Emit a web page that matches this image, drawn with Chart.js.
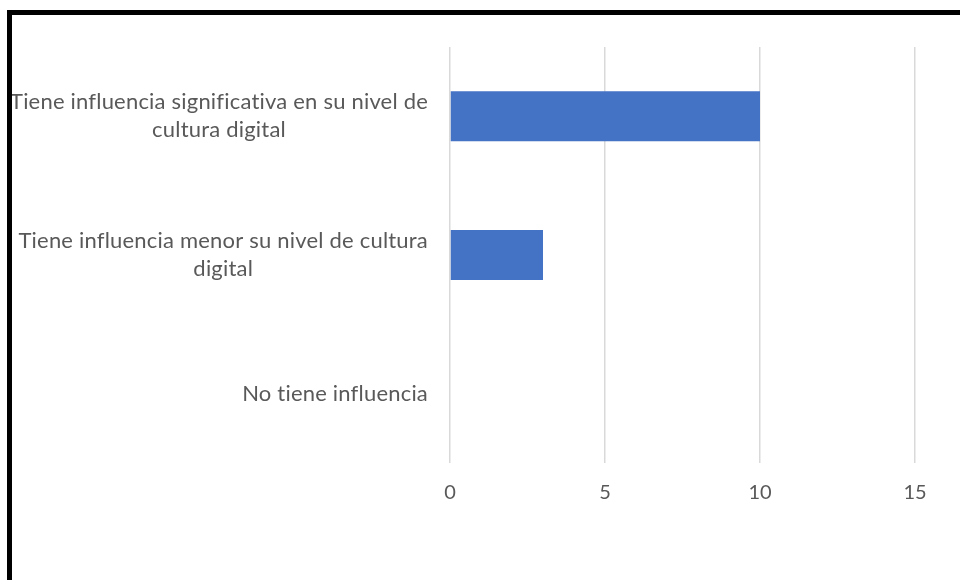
<!DOCTYPE html>
<html>
<head>
<meta charset="utf-8">
<script src="https://cdn.jsdelivr.net/npm/chart.js@4/dist/chart.umd.min.js"></script>
<style>
  html, body { margin: 0; padding: 0; background: #fff; overflow: hidden; }
  #wrap { position: relative; width: 960px; height: 580px; }
  #frame {
    position: absolute; left: 7px; top: 10px;
    width: 1000px; height: 700px;
    border-left: 5px solid #000; border-top: 5px solid #000;
    pointer-events: none;
  }
  canvas { position: absolute; left: 0; top: 0; }
</style>
</head>
<body>
<div id="wrap">
  <canvas id="barChart" width="960" height="580"></canvas>
  <div id="frame"></div>
</div>
<script>
const categories = [
  ['Tiene influencia significativa en su nivel de', 'cultura digital'],
  ['Tiene influencia menor su nivel de cultura', 'digital'],
  ['No tiene influencia'],
];
const values = [10, 3, 0];
const xTicks = [0, 5, 10, 15];

const textColor = '#595959';
const fontFamily = 'Lato, "Open Sans", sans-serif';

// category labels: block right-aligned next to the axis, lines centred inside the block
const categoryLabels = {
  id: 'categoryLabels',
  afterDraw(chart) {
    const { ctx, scales } = chart;
    const yScale = scales.y;
    const right = 428;
    const lineH = 28;
    ctx.save();
    ctx.font = '22px ' + fontFamily;
    ctx.letterSpacing = '0.2px'; // also keeps Lato's "ti" ligature off
    ctx.fillStyle = textColor;
    ctx.textAlign = 'center';
    ctx.textBaseline = 'middle';
    categories.forEach((lines, i) => {
      const cy = yScale.getPixelForValue(i);
      const maxW = Math.max(...lines.map(l => ctx.measureText(l).width));
      const cx = right - maxW / 2;
      const top = cy - (lines.length - 1) * lineH / 2;
      lines.forEach((l, j) => ctx.fillText(l, cx, top + j * lineH));
    });
    ctx.restore();
  }
};

new Chart(document.getElementById('barChart').getContext('2d'), {
  type: 'bar',
  data: {
    labels: categories.map(c => c.join(' ')),
    datasets: [{
      data: values,
      backgroundColor: '#4472C4',
      barPercentage: 0.36,
      categoryPercentage: 1,
    }],
  },
  options: {
    indexAxis: 'y',
    responsive: false,
    animation: false,
    layout: { padding: { left: 450, right: 45, top: 47, bottom: 57 } },
    plugins: { legend: { display: false }, tooltip: { enabled: false } },
    scales: {
      x: {
        min: 0,
        max: 15,
        afterBuildTicks(axis) { axis.ticks = xTicks.map(v => ({ value: v })); },
        grid: { color: '#d9d9d9', lineWidth: 1.5, drawTicks: false },
        border: { display: false },
        ticks: { color: textColor, font: { size: 20, family: fontFamily }, padding: 18 },
      },
      y: {
        display: false,
      },
    },
  },
  plugins: [categoryLabels],
});
</script>
</body>
</html>
